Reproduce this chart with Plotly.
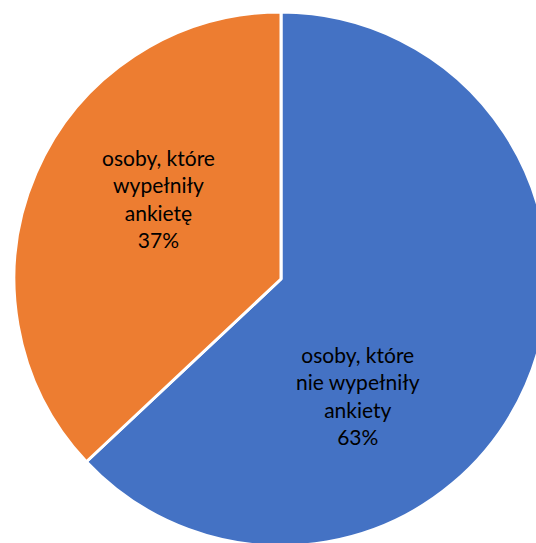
import plotly.graph_objects as go

labels = ["osoby, które<br>nie wypełniły<br>ankiety", "osoby, które<br>wypełniły<br>ankietę"]
values = [63, 37]
colors = ["#4472C4", "#ED7D31"]
label_pos = [(358, 395), (158, 198)]  # pixel centres of the text blocks

W, H = 560, 560
cx, cy, R = 281, 279, 267

fig = go.Figure(go.Pie(
    labels=labels,
    values=values,
    sort=False,
    direction="clockwise",
    rotation=0,
    marker=dict(colors=colors, line=dict(color="white", width=3)),
    textinfo="none",
    hoverinfo="label+percent",
    showlegend=False,
    domain=dict(x=[(cx - R) / W, (cx + R) / W], y=[(H - cy - R) / H, (H - cy + R) / H]),
))

total = sum(values)
for lab, v, (px, py) in zip(labels, values, label_pos):
    fig.add_annotation(
        x=px / W, y=1 - py / H, xref="paper", yref="paper",
        xanchor="center", yanchor="middle",
        text=f"{lab}<br>{round(100 * v / total)}%",
        showarrow=False, align="center",
        font=dict(family="Lato, sans-serif", size=21, color="#000000"),
    )

fig.update_layout(
    width=W, height=H,
    margin=dict(l=0, r=0, t=0, b=0),
    paper_bgcolor="white",
    plot_bgcolor="white",
)

fig.write_html("out.html", config={"displayModeBar": False},
               post_script="document.body.style.margin='0';document.body.style.overflow='hidden';")
